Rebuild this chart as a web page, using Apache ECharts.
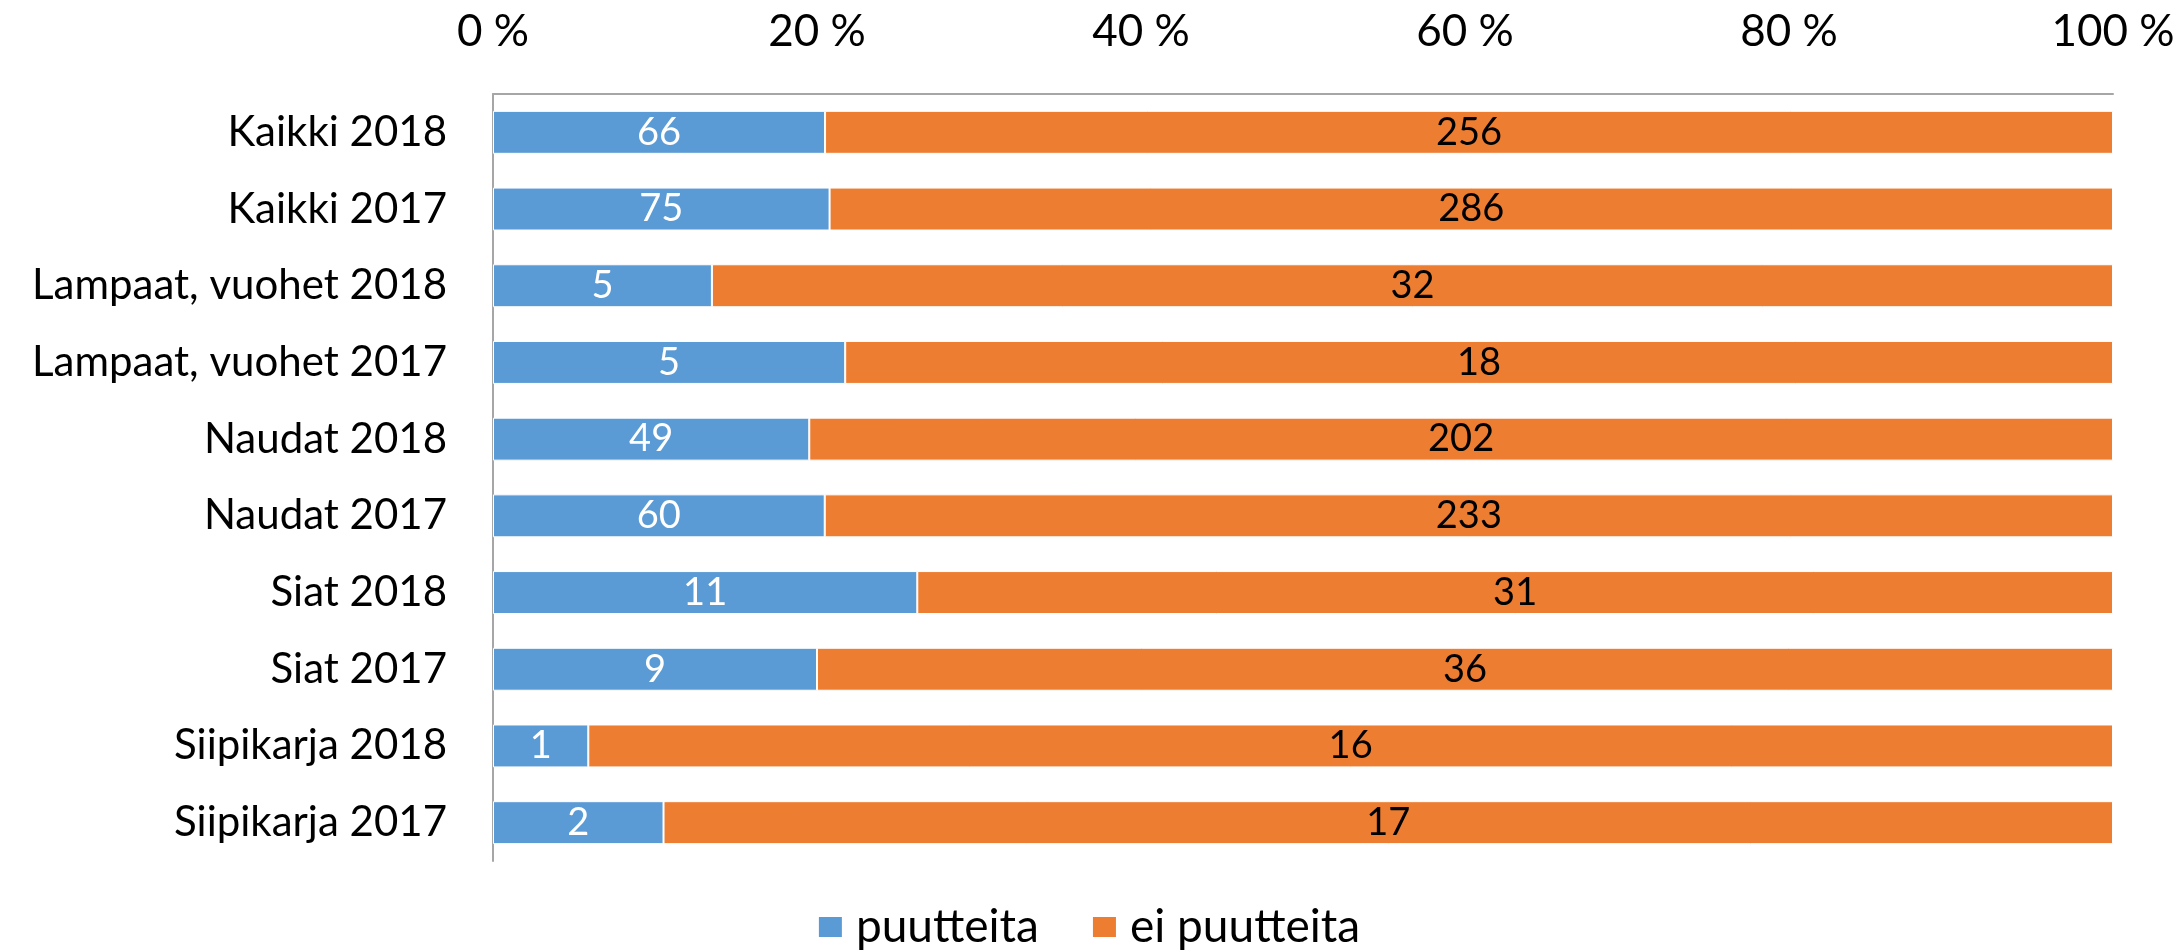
<!DOCTYPE html>
<html>
<head>
<meta charset="utf-8">
<script src="https://cdn.jsdelivr.net/npm/echarts@6/dist/echarts.min.js"></script>
<style>
  html, body { margin: 0; padding: 0; background: #fff; }
  #main { width: 2177px; height: 950px; }
</style>
</head>
<body>
<div id="main"></div>
<script>
// kategoriat ylhäältä alas
var categories = ['Kaikki 2018', 'Kaikki 2017', 'Lampaat, vuohet 2018', 'Lampaat, vuohet 2017',
  'Naudat 2018', 'Naudat 2017', 'Siat 2018', 'Siat 2017', 'Siipikarja 2018', 'Siipikarja 2017'];
var puutteita = [66, 75, 5, 5, 49, 60, 11, 9, 1, 2];
var eiPuutteita = [256, 286, 32, 18, 202, 233, 31, 36, 16, 17];
var tickLabels = ['0 %', '20 %', '40 %', '60 %', '80 %', '100 %'];

var fontFam = 'Lato, "Open Sans", sans-serif';

// osuudet prosentteina, tarrat näyttävät lukumäärät
function share(arr, i) {
  var tot = puutteita[i] + eiPuutteita[i];
  return { value: arr[i] / tot * 100, count: arr[i] };
}
var blueData = puutteita.map(function (v, i) { return share(puutteita, i); });
var orangeData = eiPuutteita.map(function (v, i) { return share(eiPuutteita, i); });

var myChart = echarts.init(document.getElementById('main'));
myChart.setOption({
  animation: false,
  textStyle: { fontFamily: fontFam },
  grid: { left: 493, right: 64, top: 94, bottom: 89, outerBoundsMode: 'none', containLabel: false },
  legend: {
    top: 899,
    left: 'center',
    itemWidth: 25,
    itemHeight: 22,
    itemGap: 52,
    icon: 'rect',
    textStyle: { fontSize: 46, color: '#000', fontFamily: fontFam, padding: [0, 0, 0, 8] },
    data: ['puutteita', 'ei puutteita']
  },
  xAxis: {
    type: 'value',
    position: 'top',
    min: 0,
    max: 100,
    interval: 20,
    axisLine: { show: true, lineStyle: { color: '#a6a6a6', width: 2 } },
    axisTick: { show: false },
    splitLine: { show: false },
    axisLabel: {
      margin: 40,
      fontSize: 44,
      color: '#000',
      formatter: function (v) { return tickLabels[Math.round(v / 20)]; }
    }
  },
  yAxis: {
    type: 'category',
    inverse: true,
    data: categories,
    axisLine: { show: true, lineStyle: { color: '#a6a6a6', width: 2 } },
    axisTick: { show: false },
    axisLabel: { margin: 46, fontSize: 42, color: '#000' }
  },
  series: [
    {
      name: 'puutteita',
      type: 'bar',
      stack: 'a',
      barCategoryGap: '44%',
      itemStyle: { color: '#5b9bd5', borderColor: '#fff', borderWidth: 1 },
      label: {
        show: true, position: 'inside', color: '#fff', fontSize: 38,
        formatter: function (p) { return p.data.count; }
      },
      data: blueData
    },
    {
      name: 'ei puutteita',
      type: 'bar',
      stack: 'a',
      barCategoryGap: '44%',
      itemStyle: { color: '#ed7d31', borderColor: '#fff', borderWidth: 1 },
      label: {
        show: true, position: 'inside', color: '#000', fontSize: 38,
        formatter: function (p) { return p.data.count; }
      },
      data: orangeData
    }
  ]
});
</script>
</body>
</html>
